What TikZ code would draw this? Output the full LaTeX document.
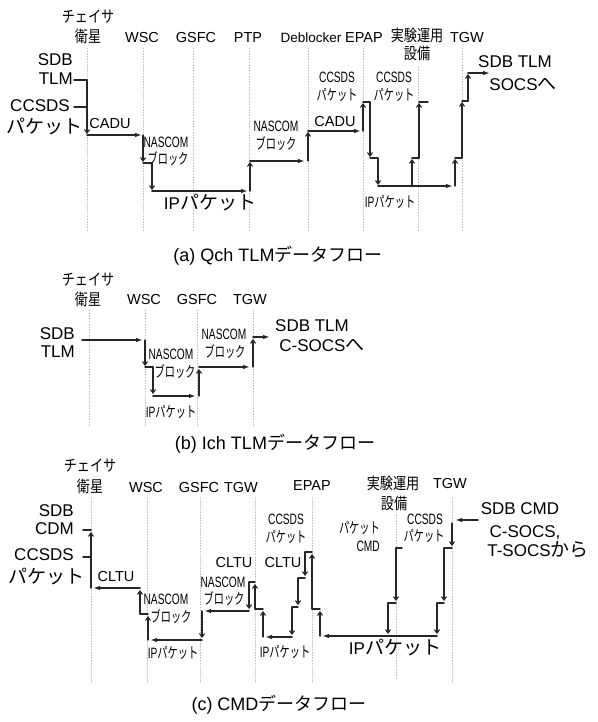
\documentclass[tikz,border=0pt]{standalone}
\usepackage{fontspec}
\setmainfont{Liberation Sans}
\newfontfamily\jpfont{Noto Sans CJK JP}
\newfontfamily\narrowfont[FakeStretch=0.68]{Liberation Sans}
\newfontfamily\narrowjp[FakeStretch=0.68]{Noto Sans CJK JP}
\newfontfamily\headjp[FakeStretch=0.82]{Noto Sans CJK JP}
\usetikzlibrary{arrows.meta}
\newcommand{\jl}[1]{{\jpfont\fontsize{19}{21}\selectfont #1}}
\newcommand{\js}[1]{{\narrowjp #1}}
\newcommand{\jh}[1]{{\headjp\fontsize{16}{18}\selectfont #1}}
\newcommand{\jn}[1]{{\jpfont #1}}

\begin{document}
\begin{tikzpicture}[x=1pt,y=-1pt,line cap=round,line join=round,
  lane/.style={gray!55,line width=0.8pt,dotted},
  hflow/.style={black!85,line width=1.7pt,-{Latex[length=7pt,width=4.5pt]}},
  vflow/.style={black!85,line width=1.1pt,-{Straight Barb[length=3.5pt,width=5pt]}},
  stub/.style={black!85,line width=1.4pt},
  lab/.style={inner sep=0pt,font=\fontsize{17}{19}\selectfont},
  hdr/.style={inner sep=0pt,font=\fontsize{14.5}{16}\selectfont},
  flab/.style={inner sep=0pt,font=\fontsize{14.5}{16}\selectfont},
  slab/.style={inner sep=0pt,font=\narrowfont\fontsize{15}{16}\selectfont},
  capt/.style={inner sep=0pt,font=\fontsize{18}{20}\selectfont}]
  \fill[white] (0,0) rectangle (597,722);
  \useasboundingbox (0,0) rectangle (597,722);

  \foreach \x in {87,143,193,249,308,363,462}
    \draw[lane] (\x,48) -- (\x,232);
  \draw[lane] (418,67) -- (418,232);
  \node[hdr] (aSatA) at (88,17) {\jh{チェイサ}};
  \node[hdr] (aSatB) at (88,36) {\jh{衛星}};
  \node[hdr] (aWSC) at (142,38) {WSC};
  \node[hdr] (aGSFC) at (196,38) {GSFC};
  \node[hdr] (aPTP) at (248,38) {PTP};
  \node[hdr,font=\fontsize{13.5}{16}\selectfont] (aDeb) at (311,38) {Deblocker};
  \node[hdr] (aEPAP) at (364,38) {EPAP};
  \node[hdr] (aExpA) at (417,35) {\jh{実験運用}};
  \node[hdr] (aExpB) at (417,53) {\jh{設備}};
  \node[hdr] (aTGW) at (467,38) {TGW};
  \node[lab,anchor=east] (aSDB) at (73,60) {SDB};
  \node[lab,anchor=east] (aTLM) at (73,79) {TLM};
  \node[lab] (aCCSDS) at (40,106) {CCSDS};
  \node[lab] (aPkt) at (44,127) {\jl{パケット}};
  \node[flab] (aCADUa) at (110,124) {CADU};
  \node[slab] (aNasA) at (166,142) {NASCOM};
  \node[slab] (aBlkA) at (168,159) {\js{ブロック}};
  \node[lab] (aIPa) at (210,203) {IP\jl{パケット}};
  \node[slab] (aNasB) at (276,126) {NASCOM};
  \node[slab] (aBlkB) at (276,144) {\js{ブロック}};
  \node[flab] (aCADUb) at (335,122) {CADU};
  \node[slab] (aCcsA) at (337,77) {CCSDS};
  \node[slab] (aPktA) at (337,95) {\js{パケット}};
  \node[slab] (aCcsB) at (394,77) {CCSDS};
  \node[slab] (aPktB) at (394,95) {\js{パケット}};
  \node[slab] (aIPb) at (390,202) {IP\js{パケット}};
  \node[lab] (aOutA) at (515,62) {SDB TLM};
  \node[lab] (aOutB) at (523,84) {SOCS\jl{へ}};
  \node[capt] (aCap) at (278,256) {(a) Qch TLM\jn{データフロー}};
  \draw[stub] (74,80) -- (87,80);
  \draw[stub] (74,107) -- (87,107);
  \draw[vflow] (87,80) -- (87,134);
  \draw[hflow] (87,135) -- (142,135);
  \draw[vflow] (143,135) -- (143,162);
  \draw[stub] (143,163) -- (152,163);
  \draw[vflow] (152,163) -- (152,190);
  \draw[hflow] (152,191) -- (248,191);
  \draw[vflow] (250,191) -- (250,162);
  \draw[hflow] (250,161) -- (305,161);
  \draw[vflow] (308,161) -- (308,132);
  \draw[hflow] (308,131) -- (361,131);
  \draw[vflow] (363,131) -- (363,103);
  \draw[stub] (363,102) -- (370,102);
  \draw[vflow] (370,102) -- (370,157);
  \draw[stub] (370,158) -- (378,158);
  \draw[vflow] (378,158) -- (378,185);
  \draw[hflow] (378,186) -- (453,186);
  \draw[vflow] (412,186) -- (412,159);
  \draw[stub] (412,158) -- (419,158);
  \draw[vflow] (419,158) -- (419,103);
  \draw[stub] (419,102) -- (428,102);
  \draw[vflow] (455,186) -- (455,159);
  \draw[stub] (455,158) -- (462,158);
  \draw[vflow] (462,158) -- (462,102);
  \draw[stub] (462,101) -- (468,101);
  \draw[vflow] (468,101) -- (468,74);
  \draw[hflow] (468,73) -- (490,73);

  \foreach \x in {89,145,197,253}
    \draw[lane] (\x,310) -- (\x,427);
  \node[hdr] (bSatA) at (88,280) {\jh{チェイサ}};
  \node[hdr] (bSatB) at (88,299) {\jh{衛星}};
  \node[hdr] (bWSC) at (144,300) {WSC};
  \node[hdr] (bGSFC) at (197,300) {GSFC};
  \node[hdr] (bTGW) at (250,300) {TGW};
  \node[lab,anchor=east] (bSDB) at (75,334) {SDB};
  \node[lab,anchor=east] (bTLM) at (75,352) {TLM};
  \node[slab] (bNasA) at (171,354) {NASCOM};
  \node[slab] (bBlkA) at (175,372) {\js{ブロック}};
  \node[slab] (bNasB) at (224,334) {NASCOM};
  \node[slab] (bBlkB) at (225,352) {\js{ブロック}};
  \node[slab] (bIP) at (171,412) {IP\js{パケット}};
  \node[lab] (bOutA) at (312,326) {SDB TLM};
  \node[lab] (bOutB) at (322,345) {C-SOCS\jl{へ}};
  \node[capt] (bCap) at (275,444) {(b) Ich TLM\jn{データフロー}};
  \draw[hflow] (82,340) -- (143,340);
  \draw[vflow] (145,340) -- (145,366);
  \draw[stub] (145,367) -- (153,367);
  \draw[vflow] (153,367) -- (153,394);
  \draw[hflow] (153,396) -- (196,396);
  \draw[vflow] (199,396) -- (199,369);
  \draw[hflow] (199,367) -- (250,367);
  \draw[vflow] (253,367) -- (253,339);
  \draw[hflow] (253,337) -- (270,337);

  \foreach \x in {91,147,200,255,312,452}
    \draw[lane] (\x,498) -- (\x,683);
  \draw[lane] (396,515) -- (396,680);
  \node[hdr] (cSatA) at (90,466) {\jh{チェイサ}};
  \node[hdr] (cSatB) at (90,486) {\jh{衛星}};
  \node[hdr] (cWSC) at (146,488) {WSC};
  \node[hdr] (cGSFC) at (199,488) {GSFC};
  \node[hdr] (cTGWa) at (241,488) {TGW};
  \node[hdr] (cEPAP) at (312,486) {EPAP};
  \node[hdr] (cExpA) at (393,483) {\jh{実験運用}};
  \node[hdr] (cExpB) at (394,503) {\jh{設備}};
  \node[hdr] (cTGWb) at (450,484) {TGW};
  \node[lab,anchor=east] (cSDB) at (74,511) {SDB};
  \node[lab,anchor=east] (cCDM) at (74,529) {CDM};
  \node[lab] (cCCSDS) at (44,555) {CCSDS};
  \node[lab] (cPkt) at (47,577) {\jl{パケット}};
  \node[flab] (cCLTUa) at (116,577) {CLTU};
  \node[slab] (cNasA) at (166,599) {NASCOM};
  \node[slab] (cBlkA) at (171,617) {\js{ブロック}};
  \node[slab] (cIPa) at (173,653) {IP\js{パケット}};
  \node[slab] (cNasB) at (223,582) {NASCOM};
  \node[slab] (cBlkB) at (224,599) {\js{ブロック}};
  \node[flab] (cCLTUb) at (234,563) {CLTU};
  \node[flab] (cCLTUc) at (283,563) {CLTU};
  \node[slab] (cCcsA) at (286,519) {CCSDS};
  \node[slab] (cPktA) at (286,537) {\js{パケット}};
  \node[slab] (cIPb) at (285,652) {IP\js{パケット}};
  \node[slab,anchor=east] (cPktB) at (380,528) {\js{パケット}};
  \node[slab,anchor=east] (cCMD) at (380,546) {CMD};
  \node[slab] (cCcsB) at (425,519) {CCSDS};
  \node[slab] (cPktC) at (424,536) {\js{パケット}};
  \node[lab] (cIPc) at (395,648) {IP\jl{パケット}};
  \node[lab] (cInA) at (520,509) {SDB CMD};
  \node[lab] (cInB) at (525,533) {C-SOCS,};
  \node[lab] (cInC) at (538,550) {T-SOCS\jl{から}};
  \node[capt] (cCap) at (279,705) {(c) CMD\jn{データフロー}};
  \draw[stub] (83,530) -- (91,530);
  \draw[stub] (83,557) -- (91,557);
  \draw[vflow] (91,588) -- (91,532);
  \draw[hflow] (140,588) -- (93,588);
  \draw[vflow] (140,614) -- (140,590);
  \draw[stub] (140,614) -- (148,614);
  \draw[vflow] (148,640) -- (148,616);
  \draw[hflow] (202,640) -- (150,640);
  \draw[vflow] (202,611) -- (202,638);
  \draw[hflow] (249,611) -- (204,611);
  \draw[vflow] (249,582) -- (249,609);
  \draw[stub] (249,582) -- (255,582);
  \draw[vflow] (255,609) -- (255,584);
  \draw[stub] (255,609) -- (263,609);
  \draw[vflow] (263,637) -- (263,611);
  \draw[hflow] (292,637) -- (265,637);
  \draw[vflow] (292,607) -- (292,635);
  \draw[stub] (292,607) -- (298,607);
  \draw[vflow] (298,578) -- (298,605);
  \draw[stub] (298,578) -- (305,578);
  \draw[vflow] (305,552) -- (305,576);
  \draw[stub] (305,552) -- (312,552);
  \draw[vflow] (312,609) -- (312,554);
  \draw[stub] (312,609) -- (320,609);
  \draw[vflow] (320,636) -- (320,611);
  \draw[hflow] (437,636) -- (322,636);
  \draw[vflow] (437,603) -- (437,634);
  \draw[stub] (437,603) -- (444,603);
  \draw[vflow] (444,548) -- (444,601);
  \draw[stub] (444,548) -- (452,548);
  \draw[vflow] (452,523) -- (452,546);
  \draw[hflow] (478,520) -- (455,520);
  \draw[stub] (396,548) -- (402,548);
  \draw[vflow] (396,548) -- (396,601);
  \draw[stub] (388,603) -- (396,603);
  \draw[vflow] (388,603) -- (388,634);
\end{tikzpicture}
\end{document}
